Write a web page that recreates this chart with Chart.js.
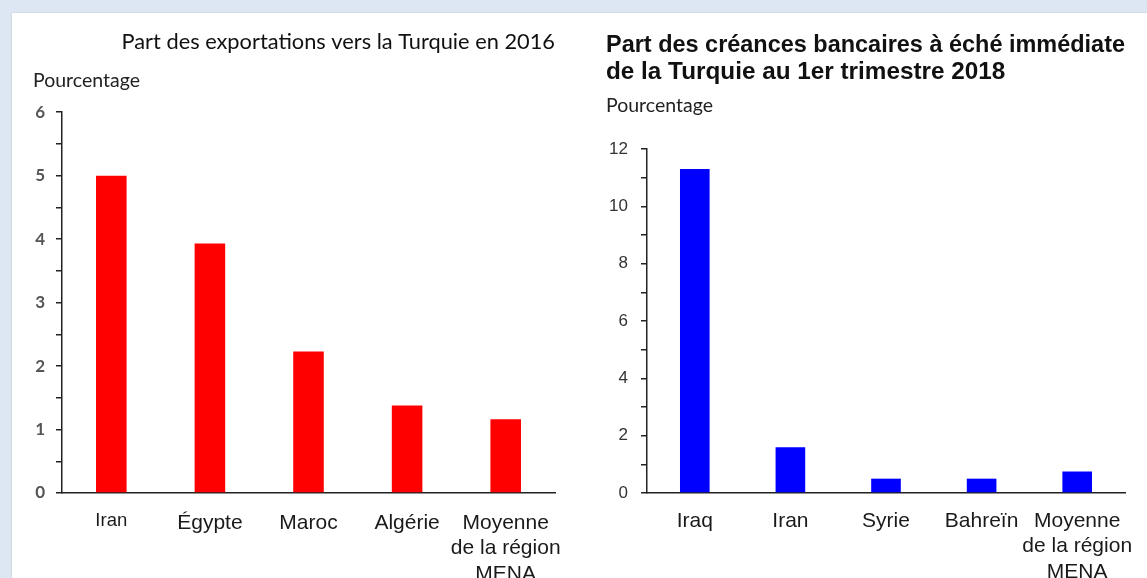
<!DOCTYPE html>
<html lang="fr">
<head>
<meta charset="utf-8">
<script src="https://cdn.jsdelivr.net/npm/chart.js@4"></script>
<style>
  html, body { margin: 0; padding: 0; width: 1147px; height: 578px; overflow: hidden; background: #dde7f3; }
  #panel { position: absolute; left: 12px; top: 13px; right: 0; bottom: 0; background: #ffffff; box-shadow: 0 0 2px rgba(0,0,0,0.15); }
  #left { position: absolute; left: 12px; top: 13px; }
  #right { position: absolute; left: 590px; top: 13px; }
</style>
</head>
<body>
<div id="panel"></div>
<canvas id="left" width="560" height="565"></canvas>
<canvas id="right" width="557" height="565"></canvas>
<script>
// exports chart
const exportCountries = ["Iran", "Égypte", "Maroc", "Algérie", ["Moyenne", "de la région", "MENA"]];
const exportShares = [5.0, 3.93, 2.23, 1.38, 1.16];

// bank claims chart
const claimCountries = ["Iraq", "Iran", "Syrie", "Bahreïn", ["Moyenne", "de la région", "MENA"]];
const claimShares = [11.3, 1.6, 0.5, 0.5, 0.75];

const leftTitle = "Part des exportations vers la Turquie en 2016";
const rightTitle = ["Part des créances bancaires à éché immédiate", "de la Turquie au 1er trimestre 2018"];
const yLabel = "Pourcentage";

Chart.defaults.animation = false;
Chart.defaults.font.family = "'Liberation Sans', Arial, sans-serif";

function makeChart(id, opts) {
  return new Chart(document.getElementById(id), {
    type: "bar",
    data: {
      labels: opts.labels,
      datasets: [{
        data: opts.values,
        backgroundColor: opts.color,
        borderWidth: 0,
        barPercentage: 0.31,
        categoryPercentage: 1.0
      }]
    },
    options: {
      responsive: false,
      devicePixelRatio: 1,
      layout: { padding: opts.padding },
      plugins: {
        legend: { display: false },
        tooltip: { enabled: false },
        title: opts.title,
        subtitle: {
          display: true,
          text: yLabel,
          align: "start",
          color: "#222",
          font: { family: "Lato", size: 19.5, weight: "normal", lineHeight: 1.2 },
          padding: opts.subPad
        }
      },
      scales: {
        x: {
          grid: { display: false, drawTicks: false },
          border: { color: "#222", width: 1.5 },
          ticks: {
            color: "#1a1a1a",
            padding: opts.xPad,
            maxRotation: 0,
            autoSkip: false,
            font: opts.xFont
          },
          afterFit: function (scale) {
            scale.height = 85;
            // let the wide last label hang past the axis end
            scale.paddingLeft = 0;
            scale.paddingRight = 0;
          }
        },
        y: {
          min: 0,
          max: opts.max,
          grid: { drawOnChartArea: false, drawTicks: true, tickLength: 6, color: "#222", lineWidth: 1.5 },
          border: { color: "#222", width: 1.5 },
          ticks: {
            stepSize: opts.step,
            padding: opts.yPad,
            color: opts.tickColor,
            font: opts.yFont,
            callback: function (v) { return v % opts.major === 0 ? v : ""; }
          },
          afterFit: function (scale) { scale.width = opts.yWidth; }
        }
      }
    }
  });
}

makeChart("left", {
  labels: exportCountries,
  values: exportShares,
  color: "#ff0000",
  padding: { left: 21, right: 17, top: 0, bottom: 0 },
  title: {
    display: true,
    text: leftTitle,
    align: "end",
    color: "#111",
    font: { family: "Lato", size: 21.8, weight: "normal", lineHeight: 1.2 },
    padding: { top: 15.7, bottom: 14 }
  },
  subPad: { top: 0, bottom: 19.9 },
  xPad: 17,
  xFont: function (ctx) {
    return { size: ctx.index === 0 ? 18.5 : 21, lineHeight: 1.22 };
  },
  max: 6,
  step: 0.5,
  major: 1,
  yPad: 11,
  yWidth: 29,
  tickColor: "#555",
  yFont: { family: "Lato", size: 17, weight: "bold" }
});

makeChart("right", {
  labels: claimCountries,
  values: claimShares,
  color: "#0000ff",
  padding: { left: 16, right: 22, top: 0, bottom: 0 },
  title: {
    display: true,
    text: rightTitle,
    align: "start",
    color: "#111",
    font: { size: 24.3, weight: "bold", lineHeight: 1.11 },
    padding: { top: 18.5, bottom: 8 }
  },
  subPad: { top: 0.8, bottom: 31.3 },
  xPad: 15,
  xFont: { size: 21, lineHeight: 1.22 },
  max: 12,
  step: 1,
  major: 2,
  yPad: 13,
  yWidth: 41,
  tickColor: "#333",
  yFont: { size: 17 }
});
</script>
</body>
</html>
